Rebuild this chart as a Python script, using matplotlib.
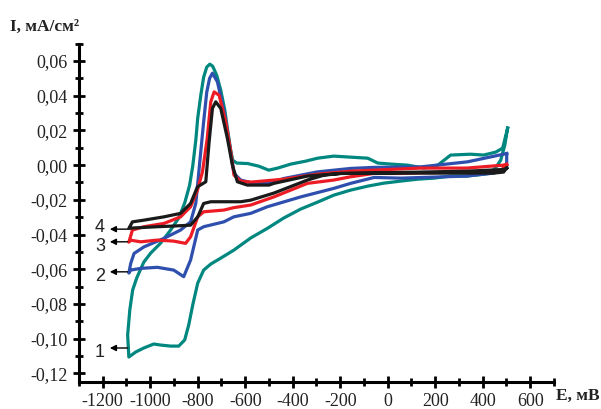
import matplotlib
matplotlib.use('Agg')
import matplotlib.pyplot as plt
from matplotlib.ticker import MultipleLocator, FuncFormatter

plt.rcParams['axes.unicode_minus'] = False

# кривая 1 (бирюзовая)
E1 = [505, 493, 476, 459, 434, 404, 333, 265, 194, 126, 55, -17, -84, -156, -227, -295, -366,
      -438, -505, -577, -648, -703, -745, -775, -800, -821, -838, -855, -880, -914, -956, -985,
      -1027, -1061, -1090,
      -1095, -1086, -1074, -1057, -1027, -998, -956, -914, -880, -855, -834, -821, -808, -800,
      -787, -775, -762, -749, -737, -720, -703, -686, -674, -661, -653, -636, -589, -543, -501,
      -463, -408, -345, -295, -227, -156, -84, -42, 13, 84, 152, 211, 265, 349, 404, 455, 484, 505]
I1 = [0.0213, 0.0115, 0.0029, -0.0006, -0.0046, -0.0052, -0.0063, -0.0063, -0.0075, -0.0081,
      -0.0092, -0.0104, -0.0121, -0.0144, -0.0173, -0.0213, -0.0253, -0.0305, -0.0363, -0.0420,
      -0.0490, -0.0536, -0.0570, -0.0605, -0.0680, -0.0806, -0.0922, -0.1008, -0.1043, -0.1043,
      -0.1037, -0.1031, -0.1054, -0.1077, -0.1106,
      -0.0979, -0.0835, -0.0720, -0.0651, -0.0559, -0.0507, -0.0449, -0.0374, -0.0305, -0.0219,
      -0.0115, -0.0006, 0.0144, 0.0271, 0.0403, 0.0507, 0.0565, 0.0582, 0.0570, 0.0518, 0.0432,
      0.0317, 0.0202, 0.0086, 0.0029, 0.0012, 0.0009, -0.0006, -0.0029, -0.0017, 0.0006, 0.0023,
      0.0040, 0.0052, 0.0046, 0.0040, 0.0012, 0.0006, 0.0, -0.0017, 0.0, 0.0058, 0.0063, 0.0058,
      0.0075, 0.0098, 0.0213]

# кривая 2 (синяя)
E2 = [501, 501, 488, 446, 333, 194, 55, -57, -156, -227, -366, -507, -577, -648, -690, -775,
      -800, -830, -859, -901, -970, -1040, -1082, -1090,
      -1082, -1068, -1026, -942, -872, -830, -808, -796, -787, -775, -762, -750, -738,
      -717, -689, -668, -647, -619, -563, -500, -437, -296, -156, -58, 139, 336, 501]
I2 = [0.0067, -0.0010, -0.0029, -0.0046, -0.0063, -0.0069, -0.0075, -0.0071, -0.0105, -0.0134,
      -0.0183, -0.0240, -0.0278, -0.0298, -0.0327, -0.0355, -0.0374, -0.0547, -0.0643, -0.0605,
      -0.0589, -0.0595, -0.0605, -0.0622,
      -0.0566, -0.0509, -0.0471, -0.0422, -0.0374, -0.0327, -0.0220, -0.0050, 0.0080, 0.0250,
      0.0420, 0.0500, 0.0530,
      0.0480, 0.0307, 0.0134, -0.0048, -0.0086, -0.0105, -0.0105, -0.0077, -0.0039, -0.0019,
      -0.0013, -0.0010, 0.0019, 0.0067]

# кривая 3 (красная)
E3 = [501, 476, 333, 139, 55, -59, -156, -227, -338, -479, -577, -648, -690, -775, -800, -830,
      -851, -901, -970, -1040, -1085, -1090,
      -1075, -1026, -942, -872, -830, -801, -780, -760, -745, -731,
      -710, -682, -661, -647, -619, -577, -438, -295, -156, -59, 139, 333, 488, 501]
I3 = [0.0, -0.0030, -0.0040, -0.0044, -0.0048, -0.0048, -0.0067, -0.0086, -0.0105, -0.0183,
      -0.0230, -0.0245, -0.0259, -0.0269, -0.0298, -0.0413, -0.0451, -0.0438, -0.0432, -0.0442,
      -0.0432, -0.0444,
      -0.0374, -0.0355, -0.0336, -0.0298, -0.0240, -0.0144, -0.0039, 0.0154, 0.0365, 0.0422,
      0.0403, 0.0249, 0.0077, -0.0058, -0.0092, -0.0098, -0.0081, -0.0052, -0.0035, -0.0029,
      -0.0017, -0.0017, 0.0, 0.0006]

# кривая 4 (черная)
E4 = [501, 488, 446, 333, 139, -198, -269, -338, -479, -577, -619, -745, -775, -800, -830,
      -901, -970, -1082, -1090,
      -1075, -1026, -942, -872, -830, -801, -766, -752, -738, -724,
      -703, -675, -654, -633, -591, -500, -479, -338, -198, 139, 333, 488, 501]
I4 = [-0.0017, -0.0040, -0.0046, -0.0046, -0.0046, -0.0048, -0.0058, -0.0086, -0.0161, -0.0202,
      -0.0211, -0.0211, -0.0221, -0.0298, -0.0346, -0.0351, -0.0355, -0.0363, -0.0365,
      -0.0327, -0.0317, -0.0298, -0.0278, -0.0221, -0.0125, -0.0096, 0.0134, 0.0327, 0.0365,
      0.0327, 0.0154, 0.0, -0.0096, -0.0115, -0.0115, -0.0105, -0.0063, -0.0048, -0.0040,
      -0.0035, -0.0025, -0.0017]

curves = [(E1, I1, '#00877f'), (E2, I2, '#2e4fad'), (E3, I3, '#ed1c24'), (E4, I4, '#1a1a1a')]
curve_labels = ['1', '2', '3', '4']
label_I = [-0.1054, -0.0615, -0.0442, -0.0369]

fig = plt.figure(figsize=(6.01, 4.09), dpi=100)
ax = fig.add_axes([0.1314, 0.066, 0.7903, 0.8272])

for E, I, c in curves:
    ax.plot(E, I, color=c, linewidth=2.3, solid_joinstyle='round')

# номера кривых со стрелками
for lab, yl in zip(curve_labels, label_I):
    ax.annotate('', xy=(-1170, yl), xytext=(-1095, yl),
                arrowprops=dict(arrowstyle='-|>', color='black', lw=1, mutation_scale=9,
                                shrinkA=0, shrinkB=0))
    dy = 0.001 if lab == '4' else -0.0026
    ax.text(-1190, yl + dy, lab, fontsize=13, family='Liberation Sans',
            ha='right', va='center', color='#222222')

ax.set_xlim(-1300, 700)
ax.set_ylim(-0.125, 0.07)

ax.spines['top'].set_visible(False)
ax.spines['right'].set_visible(False)
ax.spines['left'].set_linewidth(2.2)
ax.spines['bottom'].set_linewidth(2.2)

ax.xaxis.set_major_locator(MultipleLocator(200))
ax.xaxis.set_minor_locator(MultipleLocator(100))
ax.yaxis.set_major_locator(MultipleLocator(0.02))
ax.yaxis.set_minor_locator(MultipleLocator(0.01))

ax.xaxis.set_major_formatter(FuncFormatter(lambda v, p: '%d' % round(v)))
ax.yaxis.set_major_formatter(FuncFormatter(lambda v, p: ('%.2f' % v).replace('.', ',').replace('-0,00', '0,00')))

ax.tick_params(which='major', direction='inout', length=9, width=2, labelsize=13)
ax.tick_params(which='minor', direction='inout', length=5.5, width=2)
for t in ax.get_xticklabels() + ax.get_yticklabels():
    t.set_family('Liberation Serif')
    t.set_color('#222222')

fig.text(0.017, 0.925, 'I, мА/см²', fontsize=12.5, fontweight='bold', family='Liberation Serif',
         color='#222222')
fig.text(0.925, 0.022, 'E, мВ', fontsize=12.5, fontweight='bold', family='Liberation Serif',
         color='#222222')

fig.savefig('out.png', dpi=100)
